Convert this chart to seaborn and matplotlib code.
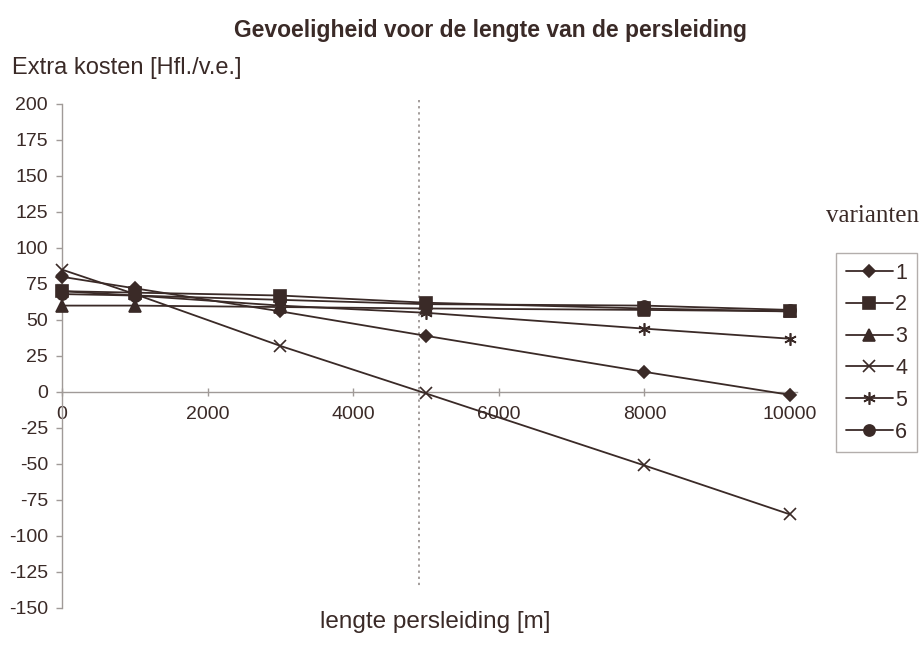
import matplotlib
matplotlib.use("Agg")
import matplotlib.pyplot as plt
import seaborn as sns
import pandas as pd

# Sensitivity of the extra costs to the length of the pressure main
lengths = [0, 1000, 3000, 5000, 8000, 10000]
variant_1 = [80, 72, 56, 39, 14, -2]
variant_2 = [70, 69, 67, 62, 58, 56]
variant_3 = [60, 60, 59, 58, 57, 56]
variant_4 = [85, 68, 32, -1, -51, -85]
variant_5 = [70, 67, 60, 55, 44, 37]
variant_6 = [68, 67, 64, 61, 60, 57]
variant_names = ["1", "2", "3", "4", "5", "6"]
y_ticks = [200, 175, 150, 125, 100, 75, 50, 25, 0, -25, -50, -75, -100, -125, -150]
x_ticks = [0, 2000, 4000, 6000, 8000, 10000]
ref_length = 4900

series = [variant_1, variant_2, variant_3, variant_4, variant_5, variant_6]
rows = []
for name, vals in zip(variant_names, series):
    for x, v in zip(lengths, vals):
        rows.append({"lengte": x, "kosten": v, "variant": name})
df = pd.DataFrame(rows)

sns.set_theme(style="white")
plt.rcParams["font.family"] = ["Liberation Sans", "DejaVu Sans"]

ink = "#3a2a27"
axis_col = "#a09a98"
markers = {"1": "D", "2": "s", "3": "^", "4": "x", "5": (6, 2, 0), "6": "o"}
msizes = {"1": 6, "2": 8, "3": 8, "4": 9, "5": 9, "6": 8}

fig = plt.figure(figsize=(9.23, 6.53), dpi=100)
ax = fig.add_axes([62 / 923, 45 / 653, (790 - 62) / 923, (608 - 104) / 653])

# reference line at the chosen length
ax.plot([ref_length, ref_length], [203, -136], color="#8a8280", lw=1.1,
        linestyle=(0, (1.5, 2.5)), zorder=1, clip_on=False)

handles = []
for name in variant_names:
    sub = df[df["variant"] == name]
    sns.lineplot(data=sub, x="lengte", y="kosten", ax=ax, color=ink,
                 marker=markers[name], markersize=msizes[name],
                 markeredgecolor=ink, markerfacecolor=ink,
                 markeredgewidth=1.2, linewidth=1.3, clip_on=False,
                 legend=False, zorder=3)
    handles.append(ax.lines[-1])

ax.set_xlim(0, 10000)
ax.set_ylim(-150, 200)
ax.set_yticks(y_ticks)
ax.set_xticks(x_ticks)
ax.set_xticklabels([str(t) for t in x_ticks])
ax.set_yticklabels([str(t) for t in y_ticks])

for s in ["top", "right"]:
    ax.spines[s].set_visible(False)
ax.spines["bottom"].set_position(("data", 0))
ax.spines["bottom"].set_bounds(0, 10100)
for s in ["left", "bottom"]:
    ax.spines[s].set_color(axis_col)
    ax.spines[s].set_linewidth(1.0)

ax.tick_params(axis="y", direction="out", length=4, width=1, color=axis_col,
               labelsize=14, labelcolor=ink, pad=6, left=True)
ax.tick_params(axis="x", direction="inout", length=6, width=1, color=axis_col,
               labelsize=14, labelcolor=ink, pad=7, bottom=True)
ax.set_xlabel("")
ax.set_ylabel("")

fig.text(490 / 923, 0.953, "Gevoeligheid voor de lengte van de persleiding",
         ha="center", va="center", fontsize=16.5, fontweight="bold", color=ink)
fig.text(12 / 923, 1 - 68 / 653, "Extra kosten [Hfl./v.e.]", ha="left",
         va="center", fontsize=17, color=ink)
fig.text(435 / 923, 1 - 622 / 653, "lengte persleiding [m]", ha="center",
         va="center", fontsize=17.5, color=ink)
fig.text(873 / 923, 1 - 216 / 653, "varianten", ha="center", va="center",
         fontsize=18, color=ink, family=["Liberation Serif", "DejaVu Serif"])

leg = fig.legend(handles, variant_names, loc="upper left",
                 bbox_to_anchor=(836 / 923, 1 - 253 / 653),
                 borderaxespad=0, frameon=True, fontsize=15.5,
                 handlelength=2.2, handletextpad=0.1, labelspacing=0.5,
                 borderpad=0.45, fancybox=False, labelcolor=ink)
leg.get_frame().set_edgecolor(axis_col)
leg.get_frame().set_linewidth(1.0)

fig.savefig("out.png", dpi=100, facecolor="white")
